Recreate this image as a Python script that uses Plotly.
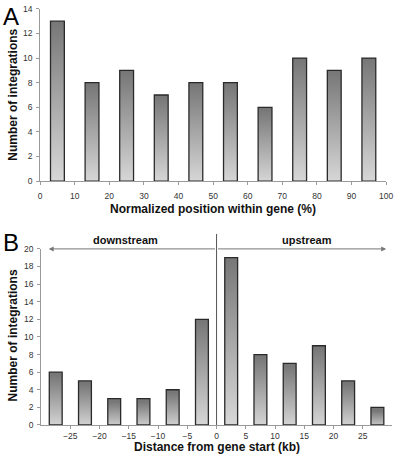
import plotly.graph_objects as go

# Panel A data
pos_centers = [5, 15, 25, 35, 45, 55, 65, 75, 85, 95]
pos_counts = [13, 8, 9, 7, 8, 8, 6, 10, 9, 10]
pos_ticks = [0, 10, 20, 30, 40, 50, 60, 70, 80, 90, 100]

# Panel B data
dist_centers = [-27.5, -22.5, -17.5, -12.5, -7.5, -2.5, 2.5, 7.5, 12.5, 17.5, 22.5, 27.5]
dist_counts = [6, 5, 3, 3, 4, 12, 19, 8, 7, 9, 5, 2]
dist_ticks = [-25, -20, -15, -10, -5, 0, 5, 10, 15, 20, 25]

W, H = 400, 461
fig = go.Figure()

SCALE = [[0, '#dadada'], [1, '#777777']]

def add_bars(centers, values, half, xa, ya):
    for c, v in zip(centers, values):
        fig.add_trace(go.Scatter(
            x=[c - half, c + half, c + half, c - half, c - half],
            y=[0, 0, v, v, 0],
            mode='lines', fill='toself',
            fillgradient=dict(type='vertical', colorscale=SCALE, start=0, stop=v),
            line=dict(color='#2a2a2a', width=1.3),
            xaxis=xa, yaxis=ya, showlegend=False, hoverinfo='skip'))

add_bars(pos_centers, pos_counts, 2.0, 'x', 'y')
add_bars(dist_centers, dist_counts, 1.1, 'x2', 'y2')

def px(x):
    return x / W

def py(y):
    return 1 - y / H

tickfont = dict(family='Arial, Liberation Sans', size=8.5, color='#333')
axline = dict(showline=True, linecolor='#9a9a9a', linewidth=1, ticks='outside',
              ticklen=3, tickcolor='#9a9a9a', showgrid=False, zeroline=False,
              tickfont=tickfont, ticklabeloverflow='allow')

fig.update_layout(
    width=W, height=H, margin=dict(l=0, r=0, t=0, b=0),
    paper_bgcolor='white', plot_bgcolor='white',
    xaxis=dict(domain=[px(39), px(393)], range=[0, 100], tickvals=pos_ticks,
               anchor='y', ticklabelstandoff=4, **axline),
    yaxis=dict(domain=[py(180), py(4)], range=[0, 14], dtick=2,
               anchor='x', ticklabelstandoff=2, **axline),
    xaxis2=dict(domain=[px(40), px(399)], range=[-30, 30], tickvals=dist_ticks,
                anchor='y2', **axline),
    yaxis2=dict(domain=[py(429.3), py(249.3)], range=[0, 20], dtick=2,
                anchor='x2', ticklabelstandoff=2, **axline),
)

# vertical line at gene start
fig.add_shape(type='line', xref='x2', yref='paper', x0=0, x1=0,
              y0=py(429.3), y1=py(234), line=dict(color='#555', width=1))

# arrows
fig.add_annotation(xref='x2', yref='y2', axref='x2', ayref='y2',
                   x=-28.7, y=20, ax=0, ay=20, text='', showarrow=True,
                   arrowhead=2, arrowsize=1, arrowwidth=1, arrowcolor='#777')
fig.add_annotation(xref='x2', yref='y2', axref='x2', ayref='y2',
                   x=29, y=20, ax=0, ay=20, text='', showarrow=True,
                   arrowhead=2, arrowsize=1, arrowwidth=1, arrowcolor='#777')

def label(x, y, text, font, xref='paper', angle=0):
    fig.add_annotation(xref=xref, yref='paper', x=x, y=y, text=text,
                       showarrow=False, font=font, textangle=angle,
                       xanchor='center', yanchor='middle')

bold = dict(family='Arial, Liberation Sans', size=11, color='#111')
label(-15.6, py(240), '<b>downstream</b>', bold, xref='x2')
label(15.4, py(240), '<b>upstream</b>', bold, xref='x2')

title_font = dict(family='Arial, Liberation Sans', size=12, color='#111')
label(px(216), py(209), '<b>Normalized position within gene (%)</b>', title_font)
label(px(220), py(452), '<b>Distance from gene start (kb)</b>', title_font)
label(px(11), py(92), '<b>Number of integrations</b>', title_font, angle=-90)
label(px(11), py(338), '<b>Number of integrations</b>', title_font, angle=-90)

letter = dict(family='Arial, Liberation Sans', size=24, color='#000')
label(px(9), py(12), 'A', letter)
label(px(9), py(243), 'B', letter)

fig.write_html('out.html', config={'displayModeBar': False},
               post_script="document.body.style.margin='0';document.body.style.overflow='hidden';")
